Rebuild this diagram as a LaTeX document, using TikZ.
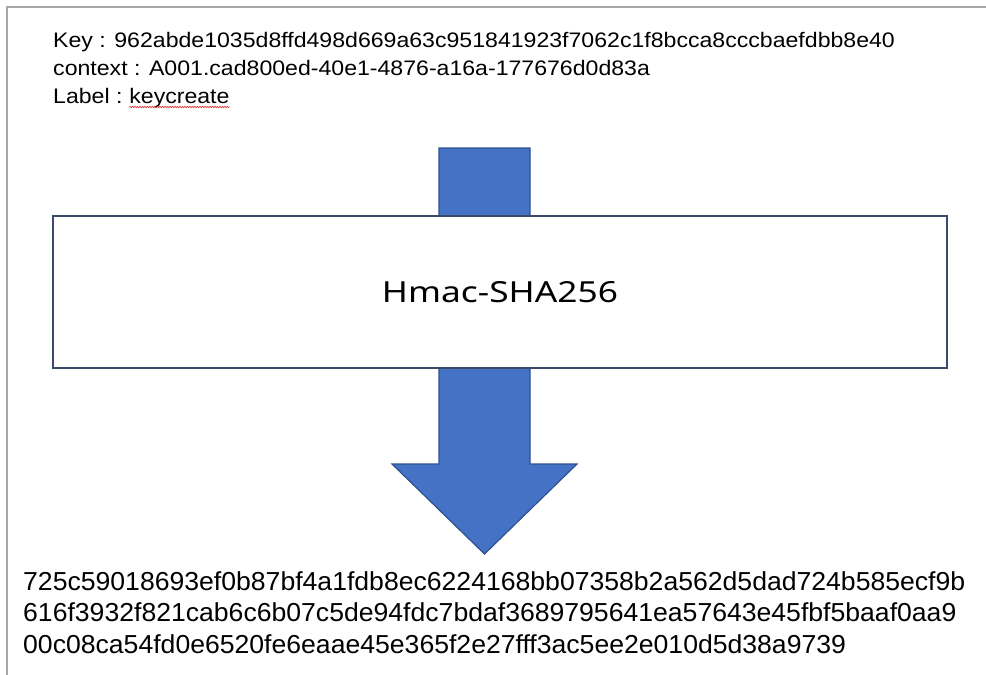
\documentclass[tikz,border=0pt]{standalone}
\usepackage{fontspec}
\setmainfont{Liberation Sans}
\newfontfamily\boxfont{Noto Sans}
\usetikzlibrary{decorations.pathmorphing}
\definecolor{arrowblue}{HTML}{4472C4}
\definecolor{arrowedge}{HTML}{2F528F}
\definecolor{boxedge}{HTML}{3B4A6B}
\definecolor{framegray}{HTML}{A8A8A8}
\definecolor{spellred}{HTML}{E03030}
\begin{document}
\begin{tikzpicture}[x=1pt,y=-1pt,
  toptext/.style={anchor=base west, inner sep=0pt, font=\fontsize{21}{21}\selectfont},
  bottext/.style={anchor=base west, inner sep=0pt, font=\fontsize{26}{26}\selectfont},
  blockarrow/.style={fill=arrowblue, draw=arrowedge, line width=1.2pt, line join=miter},
  hmacbox/.style={draw=boxedge, fill=white, line width=1.5pt, minimum width=894pt, minimum height=152pt, inner sep=0pt}
]
\useasboundingbox (0,0) rectangle (986,675);
\fill[white] (0,0) rectangle (986,675);
\draw[framegray, line width=1.2pt] (986,7) -- (7,7) -- (7,675);

% input text
\node[toptext] (key) at (53,47) {\scalebox{1.10}[1]{Key : 962abde1035d8ffd498d669a63c951841923f7062c1f8bcca8cccbaefdbb8e40}};
\node[toptext] (ctx) at (53,75) {\scalebox{1.10}[1]{context : A001.cad800ed-40e1-4876-a16a-177676d0d83a}};
\node[toptext] (lbl) at (53,103) {\scalebox{1.10}[1]{Label :\ }};
\node[toptext, anchor=base west] (kc) at (lbl.base east) {\scalebox{1.10}[1]{keycreate}};
\coordinate (ulA) at ([yshift=-4pt]kc.base west);
\coordinate (ulB) at ([yshift=-4pt]kc.base east);
\draw[spellred, line width=0.6pt, decorate, decoration={snake, amplitude=0.7pt, segment length=2.5pt}] (ulA) -- (ulB);

% block arrow
\draw[blockarrow] (439,148) -- (530,148) -- (530,464) -- (577,464) -- (484.5,554) -- (392,464) -- (439,464) -- cycle;

% box
\node[hmacbox] (hmac) at (500,292) {};
\node[anchor=base, inner sep=0pt] (hmactext) at (500,302.5) {\resizebox{236pt}{21pt}{\boxfont Hmac-SHA256}};

% output
\node[bottext] (out1) at (23,590) {\scalebox{1.023}[1]{725c59018693ef0b87bf4a1fdb8ec6224168bb07358b2a562d5dad724b585ecf9b}};
\node[bottext] (out2) at (23,621.5) {\scalebox{1.023}[1]{616f3932f821cab6c6b07c5de94fdc7bdaf3689795641ea57643e45fbf5baaf0aa9}};
\node[bottext] (out3) at (23,653) {\scalebox{1.023}[1]{00c08ca54fd0e6520fe6eaae45e365f2e27fff3ac5ee2e010d5d38a9739}};
\end{tikzpicture}
\end{document}
